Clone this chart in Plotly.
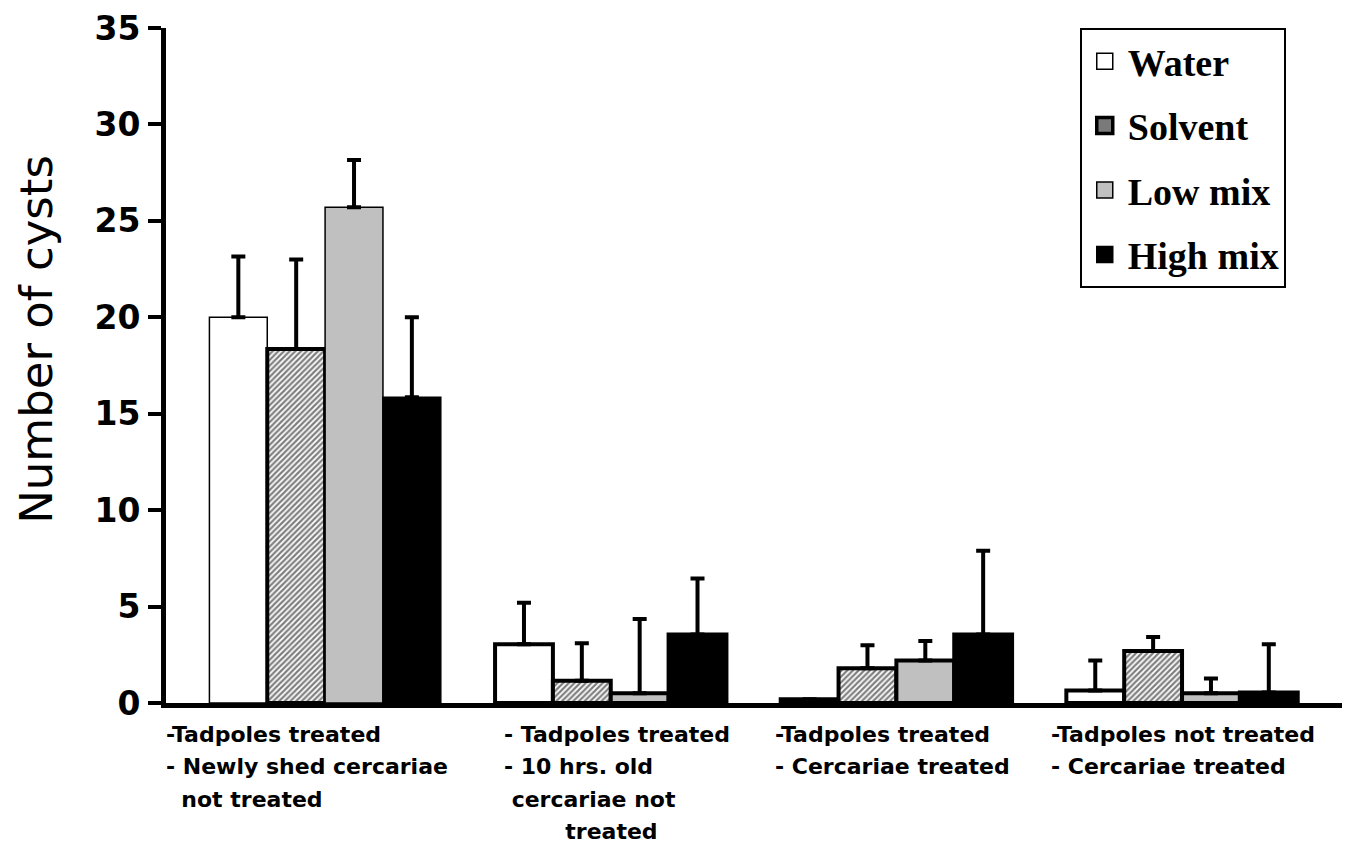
import plotly.graph_objects as go

# ---------------- data ----------------
series_names = ["Water", "Solvent", "Low mix", "High mix"]
group_index = [0, 1, 2, 3]

water_mean = [20.0, 3.05, 0.2, 0.65]
water_top = [23.15, 5.2, 0.2, 2.2]
solvent_mean = [18.35, 1.15, 1.8, 2.7]
solvent_top = [23.0, 3.1, 3.0, 3.42]
low_mean = [25.7, 0.5, 2.2, 0.5]
low_top = [28.15, 4.35, 3.22, 1.27]
high_mean = [15.85, 3.55, 3.55, 0.55]
high_top = [20.0, 6.45, 7.9, 3.05]

group_labels = [
    ["-Tadpoles treated", "- Newly shed cercariae", "\u00a0\u00a0not treated"],
    ["- Tadpoles treated", "- 10 hrs. old", "\u00a0cercariae not", "\u00a0\u00a0\u00a0\u00a0\u00a0\u00a0\u00a0\u00a0treated"],
    ["-Tadpoles treated", "- Cercariae treated"],
    ["-Tadpoles not treated", "- Cercariae treated"],
]
y_ticks = [0, 5, 10, 15, 20, 25, 30, 35]

# ---------------- styles ----------------
fills = ["white", "white", "#c0c0c0", "black"]
outline_w = [[1.5, 4, 4, 4], [4, 4, 4, 4], [1.5, 4, 4, 4], [1.5, 4, 4, 4]]
legend_fill = ["white", "#7a7a7a", "#c0c0c0", "black"]
legend_line = [1.5, 3.5, 1.5, 1.5]
label_xshift = [-161, -109, -123, -133]

means = [water_mean, solvent_mean, low_mean, high_mean]
tops = [water_top, solvent_top, low_top, high_top]

fig = go.Figure()
for k, name in enumerate(series_names):
    pattern = None
    if name == "Solvent":
        pattern = dict(shape="/", fgcolor="black", bgcolor="white", size=4, solidity=0.55)
    fig.add_trace(go.Bar(
        name=name, x=group_index, y=means[k], showlegend=False,
        marker=dict(color=fills[k], line=dict(color="black", width=outline_w[k]), pattern=pattern),
        error_y=dict(type="data", symmetric=False,
                     array=[t - m for t, m in zip(tops[k], means[k])],
                     arrayminus=[0] * len(means[k]),
                     color="black", thickness=4, width=7),
    ))

# legend entries
for k, name in enumerate(series_names):
    fig.add_trace(go.Scatter(
        name=name, x=[None], y=[None], mode="markers", legendgroup=name,
        marker=dict(symbol="square", size=16, color=legend_fill[k],
                    line=dict(color="black", width=legend_line[k])),
    ))

# category labels
for i, lines in enumerate(group_labels):
    for j, line in enumerate(lines):
        fig.add_annotation(
            x=group_index[i], y=0, xref="x", yref="paper",
            text=line, showarrow=False, xanchor="left", yanchor="middle",
            xshift=label_xshift[i], yshift=-(31 + 32.5 * j),
            font=dict(family="DejaVu Sans", size=22, color="black", weight="bold"),
        )

# y title
fig.add_annotation(
    x=-0.11, y=0.539, xref="paper", yref="paper", text="Number of cysts",
    textangle=-90, showarrow=False, xanchor="center", yanchor="middle",
    font=dict(family="DejaVu Sans", size=45, color="black"),
)

fig.update_layout(
    width=1352, height=846,
    margin=dict(l=166, r=10, t=28, b=143),
    paper_bgcolor="white", plot_bgcolor="white",
    barmode="group", bargap=0.19, bargroupgap=0,
    xaxis=dict(range=[-0.557, 3.56], showline=True, linecolor="black", linewidth=5,
               showticklabels=False, ticks="", showgrid=False, zeroline=False),
    yaxis=dict(range=[0, 35], tickvals=y_ticks, showline=True, linecolor="black", linewidth=5,
               ticks="outside", ticklen=13, tickwidth=4, tickcolor="black",
               ticklabelstandoff=1, showgrid=False, zeroline=False,
               tickfont=dict(family="DejaVu Sans", size=33, color="black", weight="bold")),
    legend=dict(x=0.777, y=1.0, xanchor="left", yanchor="top",
                bordercolor="black", borderwidth=2, bgcolor="white",
                itemwidth=36, tracegroupgap=12,
                font=dict(family="Liberation Serif", size=38, color="black", weight="bold")),
)

fig.write_html("out.html", config={"displayModeBar": False},
               post_script="document.body.style.margin='0';")
